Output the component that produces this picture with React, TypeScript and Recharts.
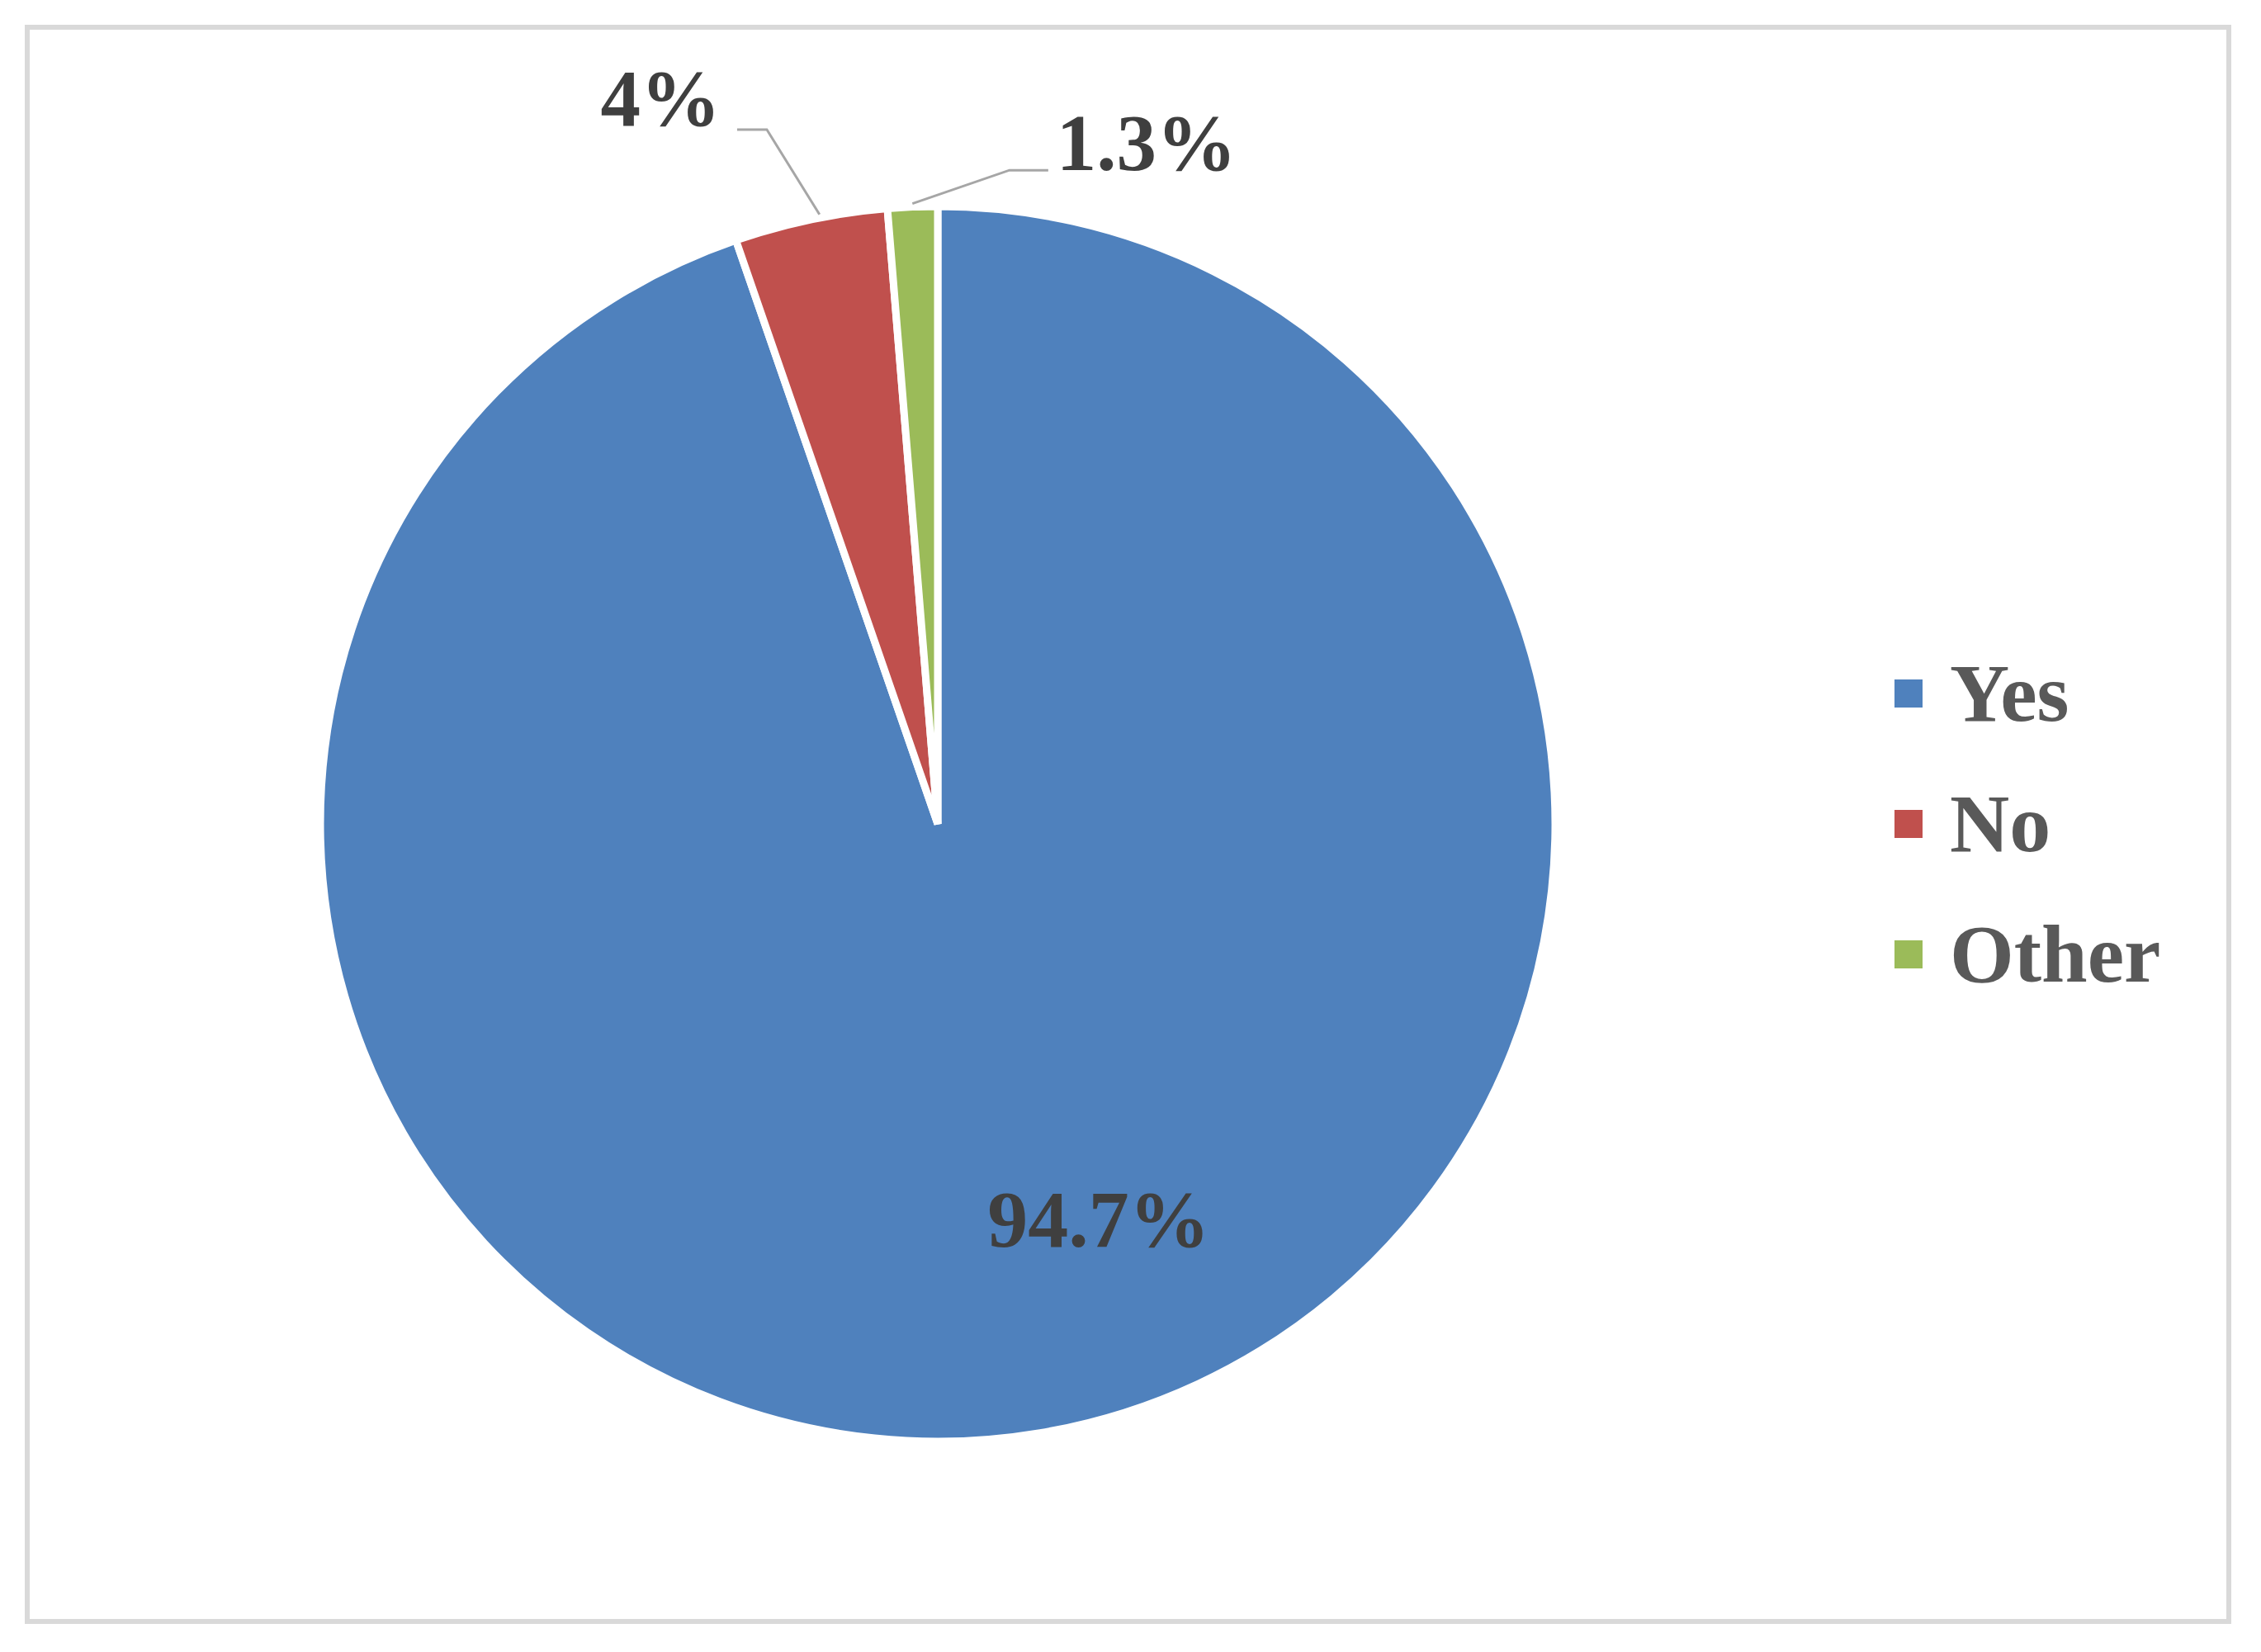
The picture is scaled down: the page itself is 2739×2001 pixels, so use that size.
import { PieChart, Pie, Cell, Legend } from "recharts";

const categories = ["Yes", "No", "Other"];
const shares = [94.7, 4, 1.3];
const shareLabels = ["94.7%", "4%", "1.3%"];
const colors = ["#4F81BD", "#C0504D", "#9BBB59"];

const data = categories.map((name, i) => ({ name, value: shares[i] }));

const serif = "'Liberation Serif', 'Times New Roman', serif";
const labelColor = "#3f3f3f";
const RAD = Math.PI / 180;

function polar(cx: number, cy: number, r: number, angle: number) {
  return { x: cx + Math.cos(-angle * RAD) * r, y: cy + Math.sin(-angle * RAD) * r };
}

// how each label sits relative to its slice
const labelLayout = [
  { inside: true, r: 0.692, shift: 12.6 },
  { inside: false, r: 1.158, shift: 1.95, run: -36, gap: 20, dy: -37, startShift: -0.9 },
  { inside: false, r: 1.065, shift: -8.6, run: 47, gap: 10, dy: -33, startShift: 0 },
];

function renderLabel(props: any) {
  const { cx, cy, midAngle, outerRadius, index } = props;
  const cfg: any = labelLayout[index];
  const text = shareLabels[index];
  if (cfg.inside) {
    const p = polar(cx, cy, outerRadius * cfg.r, midAngle + cfg.shift);
    return (
      <text x={p.x} y={p.y} textAnchor="middle" dominantBaseline="central"
        fontFamily={serif} fontWeight="bold" fontSize={98} fill={labelColor}>
        {text}
      </text>
    );
  }
  const s = polar(cx, cy, outerRadius + 4, midAngle + cfg.startShift);
  const e = polar(cx, cy, outerRadius * cfg.r, midAngle + cfg.shift);
  const endX = e.x + cfg.run;
  const left = cfg.run < 0;
  return (
    <g>
      <polyline points={`${s.x},${s.y} ${e.x},${e.y} ${endX},${e.y}`}
        fill="none" stroke="#a6a6a6" strokeWidth={3} />
      <text x={left ? endX - cfg.gap : endX + cfg.gap} y={e.y + cfg.dy}
        textAnchor={left ? "end" : "start"} dominantBaseline="central"
        fontFamily={serif} fontWeight="bold" fontSize={97} fill={labelColor}>
        {text}
      </text>
    </g>
  );
}

function LegendBox(props: any) {
  const items = props.payload || [];
  return (
    <div>
      {items.map((it: any, i: number) => (
        <div key={i} style={{ display: "flex", alignItems: "center", height: 158 }}>
          <span style={{ width: 34, height: 34, background: it.color, display: "inline-block" }} />
          <span style={{ marginLeft: 33, fontFamily: serif, fontWeight: "bold", fontSize: 100, color: "#595959", lineHeight: 1 }}>
            {it.value}
          </span>
        </div>
      ))}
    </div>
  );
}

export default function App() {
  return (
    <div style={{ position: "absolute", left: 0, top: 0, width: 2739, height: 2001, background: "#fff" }}>
      <div style={{
        position: "absolute", left: 30, top: 30, width: 2673, height: 1937,
        border: "6px solid #d9d9d9", boxSizing: "border-box",
      }} />
      <div style={{ position: "absolute", left: 0, top: 0 }}>
        <PieChart width={2739} height={2001} margin={{ top: 0, right: 0, bottom: 0, left: 0 }}>
          <Pie
            data={data}
            dataKey="value"
            nameKey="name"
            cx={1136}
            cy={998}
            outerRadius={748}
            startAngle={90}
            endAngle={-270}
            stroke="#ffffff"
            strokeWidth={9}
            label={renderLabel}
            labelLine={false}
            isAnimationActive={false}
          >
            {data.map((d, i) => (
              <Cell key={d.name} fill={colors[i]} />
            ))}
          </Pie>
          <Legend
            layout="vertical"
            align="right"
            verticalAlign="middle"
            itemSorter={(item: any) => categories.indexOf(item.value)}
            content={<LegendBox />}
            wrapperStyle={{ left: 2295, top: 761, right: "auto", width: 400 }}
          />
        </PieChart>
      </div>
    </div>
  );
}
